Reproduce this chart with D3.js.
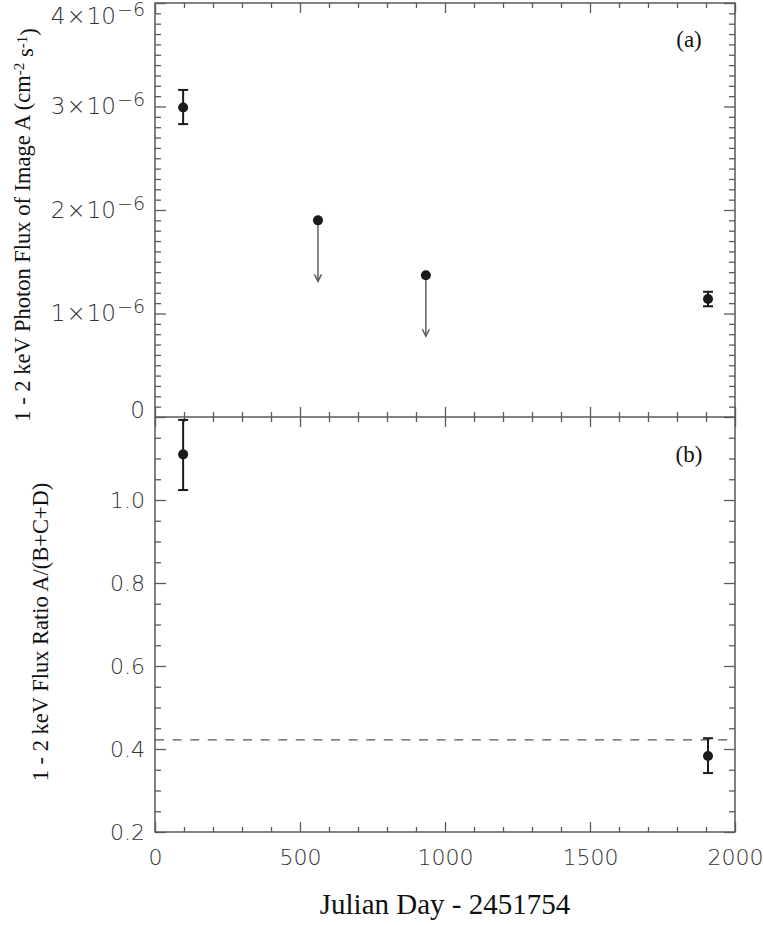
<!DOCTYPE html>
<html>
<head>
<meta charset="utf-8">
<script src="https://cdn.jsdelivr.net/npm/d3@7"></script>
<style>
  body { margin: 0; background: #fff; }
  svg { display: block; }
</style>
</head>
<body>
<svg id="chart" width="763" height="925"></svg>
<script>
// ---- Data ----
// Panel (a): 1-2 keV photon flux of image A
const fluxDays  = [97, 1907];
const fluxVals  = [2.99e-6, 1.14e-6];
const fluxLo    = [2.83e-6, 1.07e-6];
const fluxHi    = [3.16e-6, 1.21e-6];
// upper limits (arrows)
const limDays   = [562, 934];
const limVals   = [1.90e-6, 1.37e-6];
const limEnds   = [1.31e-6, 0.78e-6];
// Panel (b): flux ratio A/(B+C+D)
const ratioDays = [97, 1907];
const ratioVals = [1.11, 0.383];
const ratioLo   = [1.024, 0.342];
const ratioHi   = [1.193, 0.426];
const ratioRef  = 0.422;
// Tick values
const xMajor = [0, 500, 1000, 1500, 2000];
const aMajor = [0, 1e-6, 2e-6, 3e-6, 4e-6];
const aMajorLabels = ["0", "1", "2", "3", "4"];
const bMajor = [0.2, 0.4, 0.6, 0.8, 1.0];
const bMajorLabels = ["0.2", "0.4", "0.6", "0.8", "1.0"];

// ---- Layout ----
const L = 155, R = 735, T = 3, M = 417, B = 832;
const svg = d3.select("#chart");
const axisColor = "#5a5a5a";
const markColor = "#1a1a1a";
const tickFont = "'DejaVu Sans', sans-serif";
const serif = "'Liberation Serif', 'Times New Roman', serif";

const x = d3.scaleLinear().domain([0, 2000]).range([L, R]);
const ya = d3.scaleLinear().domain([0, 4e-6]).range([M, T]);
const yb = d3.scaleLinear().domain([0.2, 1.2]).range([B, M]);

const xMinor = d3.range(0, 2001, 100).filter(v => v % 500 !== 0);
const aMinor = d3.range(0, 41).map(i => i * 1e-7).filter((v, i) => i % 10 !== 0);
const bMinor = d3.range(0, 21).map(i => 0.2 + i * 0.05).filter((v, i) => i % 4 !== 0);

function styleAxis(g, fs) {
  g.select(".domain").remove();
  g.selectAll(".tick line").attr("stroke", axisColor).attr("stroke-width", 1.3);
  g.selectAll(".tick text").attr("fill", "#333").attr("font-family", tickFont)
    .attr("font-weight", 200).attr("font-size", fs || 22);
}

function drawTicks(yScale, yTop, yBot, major, minor, fmt, bottomLabels, fs) {
  const gl = svg.append("g").attr("transform", `translate(${L},0)`)
    .call(d3.axisLeft(yScale).tickValues(major).tickSize(-11).tickPadding(10).tickFormat(fmt));
  styleAxis(gl, fs);
  const glm = svg.append("g").attr("transform", `translate(${L},0)`)
    .call(d3.axisLeft(yScale).tickValues(minor).tickSize(-6).tickFormat(""));
  styleAxis(glm);
  const gr = svg.append("g").attr("transform", `translate(${R},0)`)
    .call(d3.axisRight(yScale).tickValues(major).tickSize(-11).tickFormat(""));
  styleAxis(gr);
  const grm = svg.append("g").attr("transform", `translate(${R},0)`)
    .call(d3.axisRight(yScale).tickValues(minor).tickSize(-6).tickFormat(""));
  styleAxis(grm);
  const gt = svg.append("g").attr("transform", `translate(0,${yTop})`)
    .call(d3.axisTop(x).tickValues(xMajor).tickSize(-10).tickFormat(""));
  styleAxis(gt);
  const gtm = svg.append("g").attr("transform", `translate(0,${yTop})`)
    .call(d3.axisTop(x).tickValues(xMinor).tickSize(-5).tickFormat(""));
  styleAxis(gtm);
  const gb = svg.append("g").attr("transform", `translate(0,${yBot})`)
    .call(d3.axisBottom(x).tickValues(xMajor).tickSize(-10).tickPadding(17)
      .tickFormat(bottomLabels ? d3.format("d") : ""));
  styleAxis(gb, 22);
  const gbm = svg.append("g").attr("transform", `translate(0,${yBot})`)
    .call(d3.axisBottom(x).tickValues(xMinor).tickSize(-5).tickFormat(""));
  styleAxis(gbm);
  return gl;
}

// Panel (a) ticks
const gla = drawTicks(ya, T, M, aMajor, aMinor, (d, i) => aMajorLabels[i], false, 23);
gla.selectAll(".tick text").each(function(d, i) {
  const t = d3.select(this);
  if (i === 0) {
    t.attr("transform", "translate(0,-7)");
    return;
  }
  t.text(null);
  t.append("tspan").text(aMajorLabels[i]);
  t.append("tspan").attr("dx", 1).text("\u00d7");
  t.append("tspan").attr("dx", 1).text("10");
  t.append("tspan").attr("dy", "-0.42em").attr("dx", 1).attr("font-size", 19).text("\u22126");
  if (i === 4) t.attr("transform", "translate(0,13)");
});

// Panel (b) ticks
drawTicks(yb, M, B, bMajor, bMinor, (d, i) => bMajorLabels[i], true, 22);

// Frames
svg.append("rect").attr("x", L).attr("y", T).attr("width", R - L).attr("height", B - T)
  .attr("fill", "none").attr("stroke", axisColor).attr("stroke-width", 1.5);
svg.append("line").attr("x1", L).attr("x2", R).attr("y1", M).attr("y2", M)
  .attr("stroke", axisColor).attr("stroke-width", 1.5);

// ---- Panel (a) marks ----
const ga = svg.append("g");
fluxDays.forEach((d, i) => {
  const cx = x(d);
  ga.append("line").attr("x1", cx).attr("x2", cx).attr("y1", ya(fluxLo[i])).attr("y2", ya(fluxHi[i]))
    .attr("stroke", markColor).attr("stroke-width", 2);
  [fluxLo[i], fluxHi[i]].forEach(v => {
    ga.append("line").attr("x1", cx - 5).attr("x2", cx + 5).attr("y1", ya(v)).attr("y2", ya(v))
      .attr("stroke", markColor).attr("stroke-width", 2);
  });
  ga.append("circle").attr("cx", cx).attr("cy", ya(fluxVals[i])).attr("r", 5).attr("fill", markColor);
});
limDays.forEach((d, i) => {
  const cx = x(d), y0 = ya(limVals[i]), y1 = ya(limEnds[i]);
  ga.append("line").attr("x1", cx).attr("x2", cx).attr("y1", y0).attr("y2", y1)
    .attr("stroke", "#555").attr("stroke-width", 1.4);
  ga.append("path").attr("d", `M${cx - 3.5},${y1 - 7} L${cx},${y1} L${cx + 3.5},${y1 - 7}`)
    .attr("fill", "none").attr("stroke", "#555").attr("stroke-width", 1.4);
  ga.append("circle").attr("cx", cx).attr("cy", y0).attr("r", 5).attr("fill", markColor);
});

// ---- Panel (b) marks ----
const gbk = svg.append("g");
gbk.append("line").attr("x1", L).attr("x2", R).attr("y1", yb(ratioRef)).attr("y2", yb(ratioRef))
  .attr("stroke", "#555").attr("stroke-width", 1.2).attr("stroke-dasharray", "9,8.6");
ratioDays.forEach((d, i) => {
  const cx = x(d);
  gbk.append("line").attr("x1", cx).attr("x2", cx).attr("y1", yb(ratioLo[i])).attr("y2", yb(ratioHi[i]))
    .attr("stroke", markColor).attr("stroke-width", 2);
  [ratioLo[i], ratioHi[i]].forEach(v => {
    gbk.append("line").attr("x1", cx - 5).attr("x2", cx + 5).attr("y1", yb(v)).attr("y2", yb(v))
      .attr("stroke", markColor).attr("stroke-width", 2);
  });
  gbk.append("circle").attr("cx", cx).attr("cy", yb(ratioVals[i])).attr("r", 5).attr("fill", markColor);
});

// ---- Labels ----
svg.append("text").attr("x", 689).attr("y", 47).attr("text-anchor", "middle")
  .attr("font-family", serif).attr("font-size", 23).attr("fill", "#111").text("(a)");
svg.append("text").attr("x", 689).attr("y", 462).attr("text-anchor", "middle")
  .attr("font-family", serif).attr("font-size", 23).attr("fill", "#111").text("(b)");

const yl1 = svg.append("text").attr("transform", "translate(30,225) rotate(-90)")
  .attr("text-anchor", "middle").attr("font-family", serif).attr("font-size", 22.5).attr("fill", "#111");
yl1.append("tspan").text("1 - 2 keV Photon Flux of Image A (cm");
yl1.append("tspan").attr("dy", "-0.4em").attr("font-size", 15).text("-2");
yl1.append("tspan").attr("dy", "0.4em").text(" s");
yl1.append("tspan").attr("dy", "-0.4em").attr("font-size", 15).text("-1");
yl1.append("tspan").attr("dy", "0.4em").text(")");

svg.append("text").attr("transform", "translate(48,632) rotate(-90)")
  .attr("text-anchor", "middle").attr("font-family", serif).attr("font-size", 22.5).attr("fill", "#111")
  .text("1 - 2 keV Flux Ratio A/(B+C+D)");

svg.append("text").attr("x", 445).attr("y", 914).attr("text-anchor", "middle")
  .attr("font-family", serif).attr("font-size", 29).attr("fill", "#111")
  .text("Julian Day - 2451754");
</script>
</body>
</html>
